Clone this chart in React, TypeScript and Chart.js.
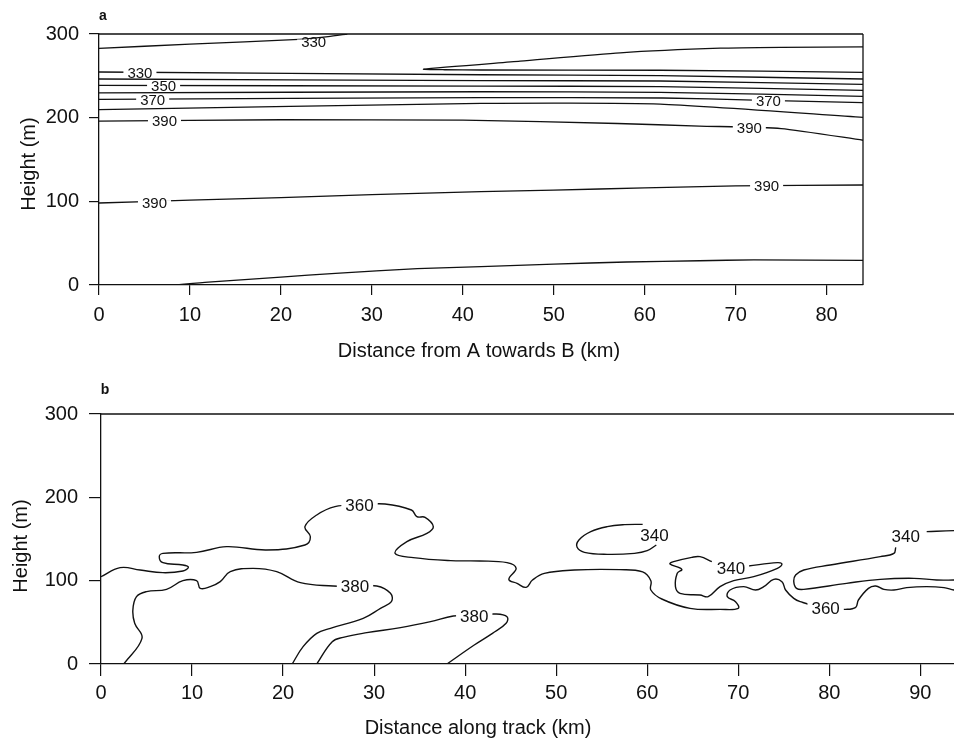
import React, { useEffect, useRef } from 'react';
import { Chart, registerables } from 'chart.js';

Chart.register(...registerables);

type Pt = [number, number];
type Lbl = { text: string; x: number; y: number };

// ---------- Panel a: Distance from A towards B ----------
const aXTicksStep = 10;
const aYTicksStep = 100;
const aXMax = 84;
const aYMax = 300;

const aLine330Top: Pt[] = [[0, 282.7], [10, 288], [22, 293.5], [25.2, 296.8], [27.3, 300]];
const aLineUpperLoop: Pt[] = [[84, 284.5], [75, 284], [68.3, 283], [57.3, 277.5], [46.3, 267.5], [35.7, 258], [38, 257.3], [42, 257], [61.7, 256.7], [84, 254.2]];
const aLine330: Pt[] = [[0, 254.6], [42, 251.3], [61.7, 250.2], [84, 246.2]];
const aLine340: Pt[] = [[0, 246.2], [42, 244.2], [61.7, 243.8], [84, 239.8]];
const aLine350: Pt[] = [[0, 238.5], [42, 237.8], [61.7, 237], [84, 232.7]];
const aLine360: Pt[] = [[0, 229.6], [42, 231], [61.7, 230.3], [84, 225.5]];
const aLine370: Pt[] = [[0, 221.9], [42, 223.9], [62, 223.5], [72, 221], [84, 218]];
const aLine380: Pt[] = [[0, 209.6], [42, 217.1], [61.7, 216.3], [84, 200.4]];
const aLine390Upper: Pt[] = [[0, 195.8], [20, 197.5], [40, 197], [57, 193], [66, 190], [75, 187], [84, 173]];
const aLine390Lower: Pt[] = [[0, 98], [10, 101.5], [20, 104.5], [30, 108], [42, 111.5], [50, 113.5], [60, 116], [70, 118.5], [84, 119.5]];
const aLineBottom: Pt[] = [[8.5, 0], [12, 3.5], [20, 9.5], [26, 14], [35, 19.5], [42, 22], [50, 25], [58, 27.5], [66, 29], [72, 30], [84, 29.5]];

const aLabels: Lbl[] = [
  { text: '330', x: 23.6, y: 290.5 },
  { text: '330', x: 4.5, y: 254 },
  { text: '350', x: 7.1, y: 238 },
  { text: '370', x: 5.9, y: 221.5 },
  { text: '390', x: 7.2, y: 196 },
  { text: '390', x: 6.1, y: 98.5 },
  { text: '370', x: 73.6, y: 219.8 },
  { text: '390', x: 71.5, y: 188 },
  { text: '390', x: 73.4, y: 119 },
];

// ---------- Panel b: Distance along track ----------
const bXMax = 93.7;
const bYMax = 300;

const bLine360: Pt[] = [
  [0, 104.8], [2.1, 115.6], [4.3, 112.8], [6.8, 109.6], [9, 111.6], [9.6, 116], [9, 118.8], [6.8, 121.6], [6.4, 128.8],
  [6.8, 132.8], [10.5, 134], [13.8, 140.8], [18.2, 136.8], [22.4, 142.8], [23, 152.8], [22.4, 164.8], [23.7, 178.8],
  [25.7, 188.8], [28.4, 190.8], [31.2, 192], [34.1, 184.8], [34.7, 176.8], [35.6, 176], [36.5, 164.8], [35.8, 156.8],
  [33.6, 146.8], [32.3, 132.8], [34.3, 127.6], [38.4, 124], [41.6, 123.6], [44.6, 121.6], [45.6, 114.8], [44.8, 101.6],
  [45.7, 96.8], [46.7, 92], [47.4, 100.8], [48.7, 108.8], [52, 112.8], [57, 113.2], [59.5, 110.5], [60.4, 100],
  [60.4, 88.8], [61.6, 78], [64.7, 66.8], [68, 65.6], [70, 66.8], [69.7, 74.8], [68.8, 80.8], [69.1, 88.8],
  [70.6, 92.8], [71.9, 88.8], [72.8, 92.8], [73.9, 101.6], [74.8, 98.8], [75.2, 88.8], [76.1, 78.8], [76.8, 74.8],
  [79.6, 66.8], [81.8, 65.6], [82.9, 68], [83.2, 76.8], [84.3, 90.8], [85.1, 93.6], [86, 89.6], [87.1, 88.8],
  [88.5, 91.6], [90.7, 92.8], [92.6, 91.6], [93.7, 88.8], [95, 87],
];
const bLine380a: Pt[] = [
  [2.5, 0], [4.5, 30.8], [3.7, 48.8], [3.5, 64.8], [3.9, 80.8], [5, 86.8], [7.2, 89.6], [9, 100], [10.5, 100],
  [10.9, 90.8], [12, 92.8], [13.1, 98.8], [14.2, 110.8], [16.7, 114.8], [19.3, 110.8], [21.9, 97.6], [25.5, 93.6],
  [27.9, 92.8], [30.3, 93.6], [31.8, 84.8], [31.9, 74.8], [30.7, 66.8], [28.8, 54.8], [25.2, 42.8], [23.7, 36.8],
  [22.2, 20.8], [21, 0],
];
const bLine380b: Pt[] = [
  [23.7, 0], [25.4, 26.8], [26.6, 32], [29.2, 37.6], [32.9, 43.6], [36.2, 50.8], [38.7, 57.6], [41, 58.5],
  [43.4, 60], [44.6, 56.8], [44.5, 48.8], [43, 36.8], [41, 22.8], [38, 0],
];
const bLine340a: Pt[] = [
  [59.5, 167.6], [57.5, 167.2], [55.6, 164.8], [53.8, 158.8], [52.5, 148.8], [52.3, 140], [53.1, 134],
  [55.6, 131.6], [58.6, 132.8], [60, 136], [61, 142.8],
];
const bLine340b: Pt[] = [
  [67.1, 122.8], [65.8, 128.8], [64.9, 128], [62.9, 122.8], [62.5, 120], [63.8, 113.6], [63.3, 108.8], [63.1, 92.8],
  [63.6, 84.8], [65.8, 82.8], [66.7, 80.8], [68, 92.8], [69.5, 100], [71.7, 104.8], [74.3, 114.8], [74.8, 120],
  [74.3, 121.6], [71.1, 117.6],
];
const bLine340cTop: Pt[] = [[90.7, 158.8], [93.7, 160], [95, 160]];
const bLine340c: Pt[] = [
  [87.3, 140], [87.1, 132.8], [85.6, 128.8], [80.1, 118.8], [77.2, 112.8], [76.3, 106.8], [76.1, 98.8], [76.4, 90.8],
  [77.2, 89.6], [81.9, 96.8], [85.6, 101.6], [89.3, 102.8], [91.8, 100.8], [93.7, 100.8], [95, 101],
];

const bLabels: Lbl[] = [
  { text: '360', x: 28.4, y: 190.8 },
  { text: '380', x: 27.9, y: 92.8 },
  { text: '380', x: 41, y: 57.8 },
  { text: '340', x: 60.8, y: 154.8 },
  { text: '340', x: 69.2, y: 115 },
  { text: '360', x: 79.6, y: 66.8 },
  { text: '340', x: 88.4, y: 153.6 },
];

const INK = '#111';
const FONT = "'Liberation Sans', Arial, Helvetica, sans-serif";

type PanelSpec = {
  lines: Pt[][];
  labels: Lbl[];
  xMax: number;
  yMax: number;
  area: { left: number; top: number; right: number; bottom: number };
  tickLength: number;
  xPad: number;
  yPad: number;
  tension: number;
  lineWidth: number;
  labelSize: number;
  labelBoxH: number;
  rightBorder: boolean;
  xTitle: string;
  xTitlePos: [number, number];
  yTitle: string;
  yTitlePos: [number, number];
  letter: string;
  letterPos: [number, number];
};

const W = 954;
const H = 372;

const panelA: PanelSpec = {
  lines: [aLine330Top, aLineUpperLoop, aLine330, aLine340, aLine350, aLine360, aLine370, aLine380, aLine390Upper, aLine390Lower, aLineBottom],
  labels: aLabels,
  xMax: aXMax,
  yMax: aYMax,
  area: { left: 99, top: 34, right: 863, bottom: 285 },
  tickLength: 10,
  xPad: 8,
  yPad: 10,
  tension: 0.2,
  lineWidth: 1.3,
  labelSize: 15,
  labelBoxH: 5,
  rightBorder: true,
  xTitle: 'Distance from A towards B (km)',
  xTitlePos: [479, 351],
  yTitle: 'Height (m)',
  yTitlePos: [29, 164],
  letter: 'a',
  letterPos: [103, 16],
};

const panelB: PanelSpec = {
  lines: [bLine360, bLine380a, bLine380b, bLine340a, bLine340b, bLine340cTop, bLine340c],
  labels: bLabels,
  xMax: bXMax,
  yMax: bYMax,
  area: { left: 101, top: 42, right: 954, bottom: 292 },
  tickLength: 12,
  xPad: 5,
  yPad: 11,
  tension: 0.4,
  lineWidth: 1.4,
  labelSize: 17,
  labelBoxH: 16,
  rightBorder: false,
  xTitle: 'Distance along track (km)',
  xTitlePos: [478, 356],
  yTitle: 'Height (m)',
  yTitlePos: [21, 174],
  letter: 'b',
  letterPos: [105, 18],
};

function decorPlugin(p: PanelSpec) {
  return {
    id: 'decor',
    afterDatasetsDraw(chart: any) {
      const { ctx, chartArea: ca, scales } = chart;
      const xs = scales.x;
      const ys = scales.y;
      ctx.save();
      ctx.strokeStyle = INK;
      ctx.lineWidth = 1.3;
      ctx.beginPath();
      ctx.moveTo(ca.left, ca.top);
      ctx.lineTo(ca.right, ca.top);
      if (p.rightBorder) {
        ctx.moveTo(ca.right, ca.top);
        ctx.lineTo(ca.right, ca.bottom);
      }
      ctx.stroke();

      ctx.font = `${p.labelSize}px ${FONT}`;
      ctx.textAlign = 'center';
      ctx.textBaseline = 'middle';
      for (const l of p.labels) {
        const px = xs.getPixelForValue(l.x);
        const py = ys.getPixelForValue(l.y);
        const w = ctx.measureText(l.text).width;
        ctx.fillStyle = '#fff';
        ctx.fillRect(px - w / 2 - 4, py - p.labelBoxH / 2, w + 8, p.labelBoxH);
        ctx.fillStyle = INK;
        ctx.fillText(l.text, px, py + 1);
      }
      ctx.restore();
    },
    afterDraw(chart: any) {
      const { ctx } = chart;
      ctx.save();
      ctx.fillStyle = INK;
      ctx.textAlign = 'center';
      ctx.textBaseline = 'middle';
      ctx.font = `20px ${FONT}`;
      ctx.fillText(p.xTitle, p.xTitlePos[0], p.xTitlePos[1]);
      ctx.save();
      ctx.translate(p.yTitlePos[0], p.yTitlePos[1]);
      ctx.rotate(-Math.PI / 2);
      ctx.fillText(p.yTitle, 0, 0);
      ctx.restore();
      ctx.font = `bold 14px ${FONT}`;
      ctx.fillText(p.letter, p.letterPos[0], p.letterPos[1]);
      ctx.restore();
    },
  };
}

function buildConfig(p: PanelSpec): any {
  const tickFont = { family: FONT, size: 20 };
  return {
    type: 'scatter',
    data: {
      datasets: p.lines.map((pts) => ({
        data: pts.map(([x, y]) => ({ x, y })),
        showLine: true,
        borderColor: INK,
        borderWidth: p.lineWidth,
        pointRadius: 0,
        pointHoverRadius: 0,
        tension: p.tension,
        fill: false,
      })),
    },
    options: {
      animation: false,
      responsive: false,
      devicePixelRatio: 1,
      events: [],
      layout: { padding: { left: 0, top: p.area.top, right: W - p.area.right, bottom: 0 } },
      plugins: { legend: { display: false }, tooltip: { enabled: false }, title: { display: false } },
      scales: {
        x: {
          type: 'linear',
          min: 0,
          max: p.xMax,
          afterFit: (s: any) => {
            s.height = H - p.area.bottom;
          },
          ticks: {
            stepSize: aXTicksStep,
            includeBounds: false,
            autoSkip: false,
            maxRotation: 0,
            font: tickFont,
            color: INK,
            padding: p.xPad,
          },
          grid: { drawOnChartArea: false, tickLength: p.tickLength, color: INK, lineWidth: 1.2 },
          border: { display: true, color: INK, width: 1.3 },
        },
        y: {
          type: 'linear',
          min: 0,
          max: p.yMax,
          afterFit: (s: any) => {
            s.width = p.area.left;
          },
          ticks: {
            stepSize: aYTicksStep,
            includeBounds: false,
            font: tickFont,
            color: INK,
            padding: p.yPad,
          },
          grid: { drawOnChartArea: false, tickLength: p.tickLength, color: INK, lineWidth: 1.2 },
          border: { display: true, color: INK, width: 1.3 },
        },
      },
    },
    plugins: [decorPlugin(p)],
  };
}

function Panel({ spec, top }: { spec: PanelSpec; top: number }) {
  const ref = useRef<HTMLCanvasElement>(null);
  useEffect(() => {
    const chart = new Chart(ref.current as HTMLCanvasElement, buildConfig(spec));
    return () => chart.destroy();
  }, [spec]);
  return (
    <canvas
      ref={ref}
      width={W}
      height={H}
      style={{ position: 'absolute', left: 0, top, width: W, height: H, display: 'block' }}
    />
  );
}

export default function App() {
  return (
    <div style={{ position: 'absolute', left: 0, top: 0, width: W, height: 744, background: '#fff', overflow: 'hidden' }}>
      <Panel spec={panelA} top={0} />
      <Panel spec={panelB} top={372} />
    </div>
  );
}
